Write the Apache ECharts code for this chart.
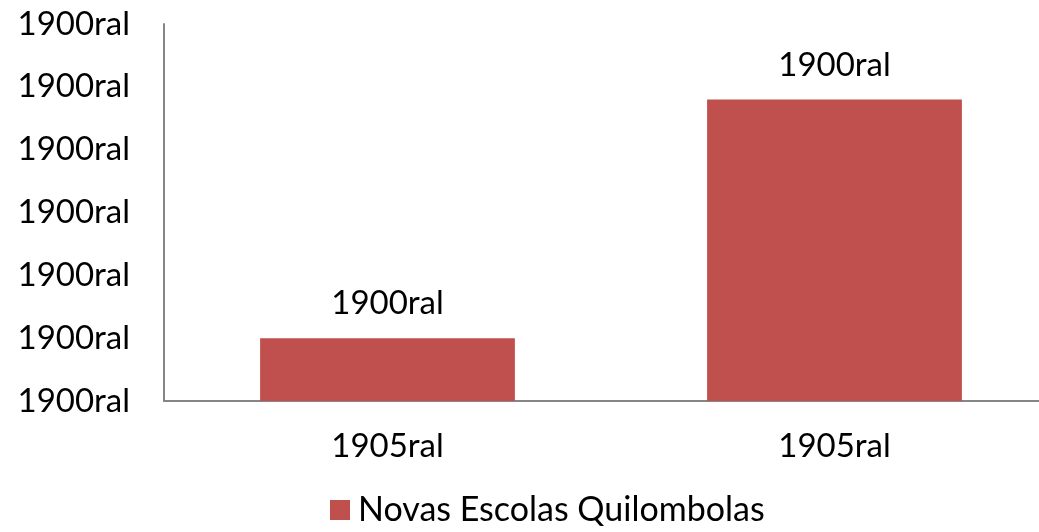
<!DOCTYPE html>
<html>
<head>
<meta charset="utf-8">
<script src="https://cdn.jsdelivr.net/npm/echarts@6/dist/echarts.min.js"></script>
<style>html,body{margin:0;padding:0;background:#fff}#c{width:1039px;height:532px}</style>
</head>
<body>
<div id="c"></div>
<script>
const categories = ['1905ral', '1905ral'];
const seriesName = 'Novas Escolas Quilombolas';
const values = [1, 4.8];
const yTickLabel = '1900ral';
const valueLabel = '1900ral';

const FONT = 'Lato';
const chart = echarts.init(document.getElementById('c'), null, {renderer: 'canvas'});
chart.setOption({
  animation: false,
  backgroundColor: '#ffffff',
  textStyle: {fontFamily: FONT},
  grid: {left: 164, top: 24, right: -19, bottom: 131, containLabel: false, outerBoundsMode: 'none'},
  legend: {
    bottom: 0, left: 325,
    itemWidth: 20, itemHeight: 20, itemGap: 10,
    icon: 'rect',
    textStyle: {fontFamily: FONT, fontSize: 34, color: '#000', padding: [0, 0, 0, 3]},
    data: [seriesName]
  },
  xAxis: {
    type: 'category',
    data: categories,
    axisLine: {lineStyle: {color: '#868686', width: 2}},
    axisTick: {show: false},
    axisLabel: {fontFamily: FONT, fontSize: 33, color: '#000', margin: 29}
  },
  yAxis: {
    type: 'value', min: 0, max: 6, interval: 1,
    axisLine: {show: true, lineStyle: {color: '#868686', width: 2}},
    axisTick: {show: false},
    splitLine: {show: false},
    axisLabel: {fontFamily: FONT, fontSize: 33, color: '#000', margin: 34, align: 'right',
      formatter: () => yTickLabel}
  },
  series: [{
    name: seriesName,
    type: 'bar',
    data: values,
    barCategoryGap: '43%',
    itemStyle: {color: '#C0504D'},
    label: {show: true, position: 'top', distance: 18, fontFamily: FONT, fontSize: 33, color: '#000',
      formatter: () => valueLabel}
  }]
});
</script>
</body>
</html>
